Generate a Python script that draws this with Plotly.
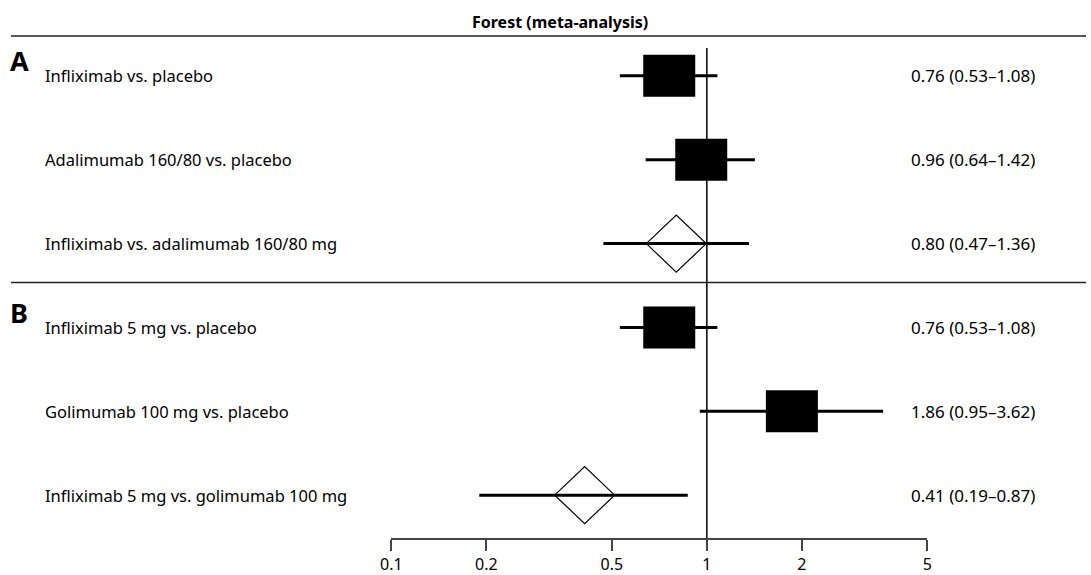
import math
import plotly.graph_objects as go

# ---- data ----
comparisons = [
    "Infliximab vs. placebo",
    "Adalimumab 160/80 vs. placebo",
    "Infliximab vs. adalimumab 160/80 mg",
    "Infliximab 5 mg vs. placebo",
    "Golimumab 100 mg vs. placebo",
    "Infliximab 5 mg vs. golimumab 100 mg",
]
panels = ["A", "A", "A", "B", "B", "B"]
estimates = [0.76, 0.96, 0.80, 0.76, 1.86, 0.41]
lower_ci = [0.53, 0.64, 0.47, 0.53, 0.95, 0.19]
upper_ci = [1.08, 1.42, 1.36, 1.08, 3.62, 0.87]
kinds = ["direct", "direct", "indirect", "direct", "direct", "indirect"]
tick_vals = [0.1, 0.2, 0.5, 1, 2, 5]
tick_text = ["0.1", "0.2", "0.5", "1", "2", "5"]
title_text = "Forest (meta-analysis)"

W, H = 1091, 575
FONT = "Noto Sans"
rows = list(range(1, len(comparisons) + 1))

# pixel geometry helpers (layout only)
row0_px, row_step = 76, 84
axis_px = 539
def px_to_row(p):
    return 1 + (p - row0_px) / row_step

y_top = px_to_row(0)
y_bot = px_to_row(axis_px)
x_range_log = [math.log10(tick_vals[0]), math.log10(tick_vals[-1])]
x_domain = [386 / W, 930 / W]

fig = go.Figure()

# CI lines
cx, cy = [], []
for r, lo, hi in zip(rows, lower_ci, upper_ci):
    cx += [lo, hi, None]
    cy += [r, r, None]
fig.add_trace(go.Scatter(x=cx, y=cy, mode="lines",
                         line=dict(color="black", width=3),
                         hoverinfo="skip", showlegend=False))

# reference line at 1
fig.add_trace(go.Scatter(x=[1, 1], y=[px_to_row(48), y_bot], mode="lines",
                         line=dict(color="black", width=1.5),
                         hoverinfo="skip", showlegend=False))

# invisible anchor trace on the linear (log10) overlay axis used for sized shapes
fig.add_trace(go.Scatter(x=[math.log10(e) for e in estimates], y=rows,
                         xaxis="x2", mode="markers", marker=dict(opacity=0),
                         hoverinfo="skip", showlegend=False))

shapes = []
for r, est, kind in zip(rows, estimates, kinds):
    lx = math.log10(est)
    if kind == "direct":
        shapes.append(dict(type="rect", xref="x2", yref="y",
                           xsizemode="pixel", xanchor=lx, x0=-26, x1=26,
                           ysizemode="pixel", yanchor=r, y0=-21, y1=21,
                           fillcolor="black", line=dict(width=0)))
    else:
        shapes.append(dict(type="path", xref="x2", yref="y",
                           xsizemode="pixel", xanchor=lx,
                           ysizemode="pixel", yanchor=r,
                           path="M-30,0 L0,28.5 L30,0 L0,-28.5 Z",
                           fillcolor="rgba(0,0,0,0)",
                           line=dict(color="black", width=1.2)))

# separators
for py in [36, 283]:
    shapes.append(dict(type="line", xref="paper", yref="paper",
                       x0=0, x1=1, y0=1 - py / H, y1=1 - py / H,
                       line=dict(color="#222", width=1.5)))

annotations = []
annotations.append(dict(text="<b>" + title_text + "</b>", xref="paper", yref="paper",
                        x=557 / W, y=1 - 22 / H, showarrow=False,
                        font=dict(family=FONT, size=16, color="black"),
                        xanchor="center", yanchor="middle"))
for r, lab, est, lo, hi in zip(rows, comparisons, estimates, lower_ci, upper_ci):
    annotations.append(dict(text=lab, xref="paper", yref="y", x=32 / W, y=r,
                            showarrow=False, xanchor="left", yanchor="middle",
                            font=dict(family=FONT, size=16.5, color="black")))
    annotations.append(dict(text=f"{est:.2f} ({lo:.2f}\u2013{hi:.2f})",
                            xref="paper", yref="y", x=911 / W, y=r,
                            showarrow=False, xanchor="left", yanchor="middle",
                            font=dict(family=FONT, size=17, color="black")))
seen = set()
for r, p in zip(rows, panels):
    if p in seen:
        continue
    seen.add(p)
    annotations.append(dict(text="<b>" + p + "</b>", xref="paper", yref="y",
                            x=-3 / W, y=r - 15 / row_step,
                            showarrow=False, xanchor="left", yanchor="middle",
                            font=dict(family=FONT, size=27, color="black")))

fig.update_layout(
    width=W, height=H,
    margin=dict(l=0, r=0, t=0, b=0),
    paper_bgcolor="white", plot_bgcolor="white",
    shapes=shapes, annotations=annotations,
    xaxis=dict(type="log", range=x_range_log, domain=x_domain,
               tickvals=tick_vals, ticktext=tick_text,
               showgrid=False, zeroline=False,
               showline=True, linecolor="#444", linewidth=2,
               ticks="outside", ticklen=11, tickwidth=1.5, tickcolor="#444",
               tickfont=dict(family=FONT, size=16, color="black")),
    xaxis2=dict(type="linear", range=x_range_log, overlaying="x",
                visible=False, showgrid=False, zeroline=False),
    yaxis=dict(range=[y_bot, y_top], domain=[1 - axis_px / H, 1],
               visible=False, showgrid=False, zeroline=False),
    showlegend=False,
)

fig.write_html("out.html",
               config={"displayModeBar": False},
               post_script="document.body.style.margin='0';"
                           "document.documentElement.style.margin='0';"
                           "document.body.style.overflow='hidden';")
